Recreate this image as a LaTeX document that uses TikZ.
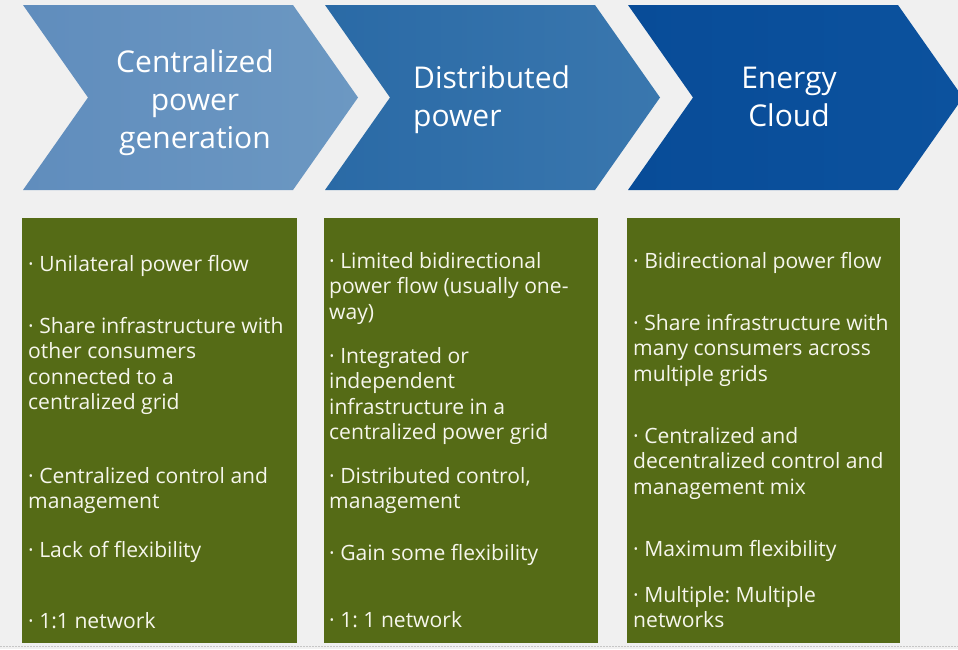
\documentclass[tikz,border=0pt]{standalone}
\usepackage{fontspec}
\setmainfont{Open Sans}
\frenchspacing
\definecolor{pagegray}{RGB}{240,240,240}
\definecolor{boxgreen}{RGB}{85,107,22}
\definecolor{creamwhite}{RGB}{246,246,236}
\definecolor{stageaL}{RGB}{96,141,189}
\definecolor{stageaR}{RGB}{108,152,194}
\definecolor{stagebL}{RGB}{42,106,166}
\definecolor{stagebR}{RGB}{58,119,174}
\definecolor{stagecL}{RGB}{8,76,152}
\definecolor{stagecR}{RGB}{12,82,158}

\begin{document}
\begin{tikzpicture}[x=1pt,y=-1pt,
    headtext/.style={text=white, inner sep=0pt, font=\fontsize{30}{38}\selectfont, yshift=26.6pt},
    point/.style={anchor=north west, inner sep=0pt, align=left, text=creamwhite,
                  font=\fontsize{21.1}{25.5}\selectfont, yshift=17.85pt}]
\fill[pagegray] (0,0) rectangle (958,649);
\useasboundingbox (0,0) rectangle (958,649);
\draw[gray!45, dash pattern=on 2pt off 1pt] (0,646) -- (958,646);

% the three stages
\foreach \x/\cl/\cr in {23/stageaL/stageaR, 325/stagebL/stagebR, 628/stagecL/stagecR}
  \shade[left color=\cl, right color=\cr]
    (\x,5) -- ++(270,0) -- ++(65,92.5) -- ++(-65,92.5) -- ++(-270,0) -- ++(65,-92.5) -- cycle;

\node[headtext, anchor=north, align=center] (central) at (195,72) {\strut Centralized\\power\\generation};
\node[headtext, anchor=north west, align=left] (distrib) at (413,88) {\strut Distributed\\power};
\node[headtext, anchor=north, align=center] (cloud) at (789,88) {\strut Energy\\Cloud};

% boxes
\foreach \x/\w in {22/275, 324/274, 627/273}
  \fill[boxgreen] (\x,218) rectangle ++(\w,425);

% centralized
\node[point] (cflow) at (28,271) {\strut · Unilateral power flow};
\node[point] (cshare) at (28,333) {\strut · Share infrastructure with\\other consumers\\connected to a\\centralized grid};
\node[point] (ccontrol) at (28,483) {\strut · Centralized control and\\management};
\node[point] (cflex) at (28,557) {\strut · Lack of flexibility};
\node[point] (cnet) at (28,628) {\strut · 1:1 network};

% distributed
\node[point] (dflow) at (329,268) {\strut · Limited bidirectional\\power flow (usually one-\\way)};
\node[point] (dinfra) at (329,363) {\strut · Integrated or\\independent\\infrastructure in a\\centralized power grid};
\node[point] (dcontrol) at (329,483) {\strut · Distributed control,\\management};
\node[point] (dflex) at (329,560) {\strut · Gain some flexibility};
\node[point] (dnet) at (329,627) {\strut · 1: 1 network};

% energy cloud
\node[point] (eflow) at (633,268) {\strut · Bidirectional power flow};
\node[point] (eshare) at (633,330) {\strut · Share infrastructure with\\many consumers across\\multiple grids};
\node[point] (econtrol) at (633,443) {\strut · Centralized and\\decentralized control and\\management mix};
\node[point] (eflex) at (633,556) {\strut · Maximum flexibility};
\node[point] (enet) at (633,602) {\strut · Multiple: Multiple\\networks};
\end{tikzpicture}
\end{document}
